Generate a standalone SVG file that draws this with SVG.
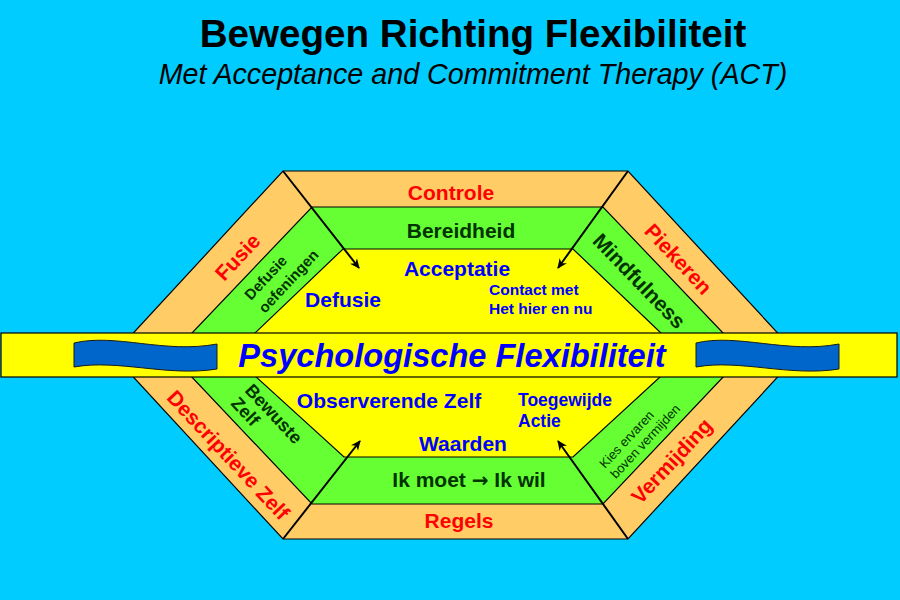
<svg xmlns="http://www.w3.org/2000/svg" width="900" height="600" viewBox="0 0 900 600">
<defs>
<style>
text{font-family:"Liberation Sans",Arial,sans-serif;font-weight:bold}
.red{fill:#FF0000;font-size:21px}
.dg{fill:#003300}
.bl{fill:#0000FF}
.poly{stroke:#000;stroke-width:1.2}
.flag{fill:#0066CC;stroke:#1a1a1a;stroke-width:1}
.arr{stroke:#000;stroke-width:2;fill:none;marker-end:url(#ah)}
</style>
<marker id="ah" viewBox="0 0 10 10" refX="9" refY="5" markerWidth="5" markerHeight="5" orient="auto" markerUnits="strokeWidth">
<path d="M0,0.5 L10,5 L0,9.5 L3,5 Z" fill="#000"/>
</marker>
</defs>
<rect width="900" height="600" fill="#00CCFF"/>
<g id="title">
<text x="473" y="47" text-anchor="middle" font-size="38.6" fill="#000">Bewegen Richting Flexibiliteit</text>
<text x="473" y="84" text-anchor="middle" font-size="28.7" font-style="italic" style="font-weight:normal" fill="#000">Met Acceptance and Commitment Therapy (ACT)</text>
</g>
<g id="hexagon">
<polygon class="poly" fill="#FFCC66" points="283,171 628,171 798,355 628,539 283,539 113,355"/>
<polygon class="poly" fill="#66FF33" points="312,207 603,207 744,355 603,504 312,504 171,355"/>
<polygon class="poly" fill="#FFFF00" points="343,249 573,249 684,355 573,457 344,457 232,355"/>
</g>
<g id="connectors">
<line class="arr" x1="283" y1="171" x2="359" y2="268"/>
<line class="arr" x1="628" y1="171" x2="558" y2="268"/>
<line class="arr" x1="283" y1="539" x2="360" y2="441"/>
<line class="arr" x1="628" y1="539" x2="558" y2="441"/>
</g>
<g id="outer-labels">
<text class="red" x="451" y="200" text-anchor="middle">Controle</text>
<text class="red" x="459" y="528" text-anchor="middle">Regels</text>
<text class="red" transform="translate(243,262) rotate(-47)" text-anchor="middle">Fusie</text>
<text class="red" transform="translate(673,264) rotate(47)" text-anchor="middle">Piekeren</text>
<text class="red" transform="translate(223,460) rotate(47)" text-anchor="middle">Descriptieve Zelf</text>
<text class="red" transform="translate(677,466) rotate(-47)" text-anchor="middle">Vermijding</text>
</g>
<g id="middle-labels">
<text class="dg" x="461" y="238" text-anchor="middle" font-size="21">Bereidheid</text>
<text class="dg" x="469" y="487" text-anchor="middle" font-size="21">Ik moet <tspan font-family="DejaVu Sans" font-size="20">→</tspan> Ik wil</text>
<text class="dg" transform="translate(634,286) rotate(46)" text-anchor="middle" font-size="21">Mindfulness</text>
<text class="dg" transform="translate(251,301) rotate(-47)" font-size="15"><tspan x="0" y="0">Defusie</tspan><tspan x="0" y="19">oefeningen</tspan></text>
<text class="dg" transform="translate(244,391) rotate(47)" font-size="18"><tspan x="0" y="0">Bewuste</tspan><tspan x="0" y="19">Zelf</tspan></text>
<text class="dg" transform="translate(605,469) rotate(-47)" font-size="13" style="font-weight:normal"><tspan x="0" y="0">Kies ervaren</tspan><tspan x="0" y="15">boven vermijden</tspan></text>
</g>
<g id="inner-labels">
<text class="bl" x="457" y="276" text-anchor="middle" font-size="21">Acceptatie</text>
<text class="bl" x="343" y="307" text-anchor="middle" font-size="21">Defusie</text>
<text class="bl" x="489" y="295" font-size="15.5">Contact met</text>
<text class="bl" x="489" y="314" font-size="15.5">Het hier en nu</text>
<text class="bl" x="389" y="408" text-anchor="middle" font-size="21">Observerende Zelf</text>
<text class="bl" x="518" y="406" font-size="17.5">Toegewijde</text>
<text class="bl" x="518" y="427" font-size="17.5">Actie</text>
<text class="bl" x="463" y="451" text-anchor="middle" font-size="21">Waarden</text>
</g>
<g id="banner">
<rect x="1" y="333" width="896" height="44" fill="#FFFF00" stroke="#000" stroke-width="1.2"/>
<path class="flag" d="M74,343 C115,333 165,354 217,344 L217,369 C168,377 118,359 74,367 Z"/>
<path class="flag" d="M696,343 C737,333 787,354 839,344 L839,369 C790,377 740,359 696,367 Z"/>
<text class="bl" x="452" y="367" text-anchor="middle" font-size="32.6" font-style="italic">Psychologische Flexibiliteit</text>
</g>
</svg>
